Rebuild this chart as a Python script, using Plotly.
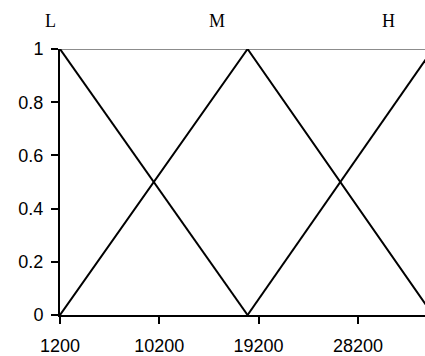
import plotly.graph_objects as go

# Membership function data
x_low = [1200, 18200]
y_low = [1, 0]
x_mid = [1200, 18200, 35000]
y_mid = [0, 1, 0]
x_high = [18200, 35000]
y_high = [0, 1]
set_labels = ["L", "M", "H"]
x_ticks = [1200, 10200, 19200, 28200]
y_ticks = [0, 0.2, 0.4, 0.6, 0.8, 1]
y_tick_text = ["0", "0.2", "0.4", "0.6", "0.8", "1"]

W, H = 425, 356
ML, MR, MT, MB = 60, 0, 49, 41

fig = go.Figure()
line_style = dict(color="black", width=2)
for xs, ys in [(x_low, y_low), (x_mid, y_mid), (x_high, y_high)]:
    fig.add_trace(go.Scatter(x=xs, y=ys, mode="lines", line=line_style,
                             showlegend=False, hoverinfo="skip"))

# grey reference line at membership 1
fig.add_shape(type="line", xref="paper", yref="y", x0=0, x1=1, y0=1, y1=1,
              line=dict(color="#8c8c8c", width=2), layer="below")

label_pos = [-0.027, 0.43, 0.899]
for lab, px in zip(set_labels, label_pos):
    fig.add_annotation(text=lab, xref="paper", yref="paper", x=px, y=1,
                       yshift=28, showarrow=False, xanchor="center", yanchor="middle",
                       font=dict(family="Liberation Serif, Times New Roman, serif",
                                 size=18, color="black"))

tick_font = dict(family="Liberation Sans, Arial, sans-serif", size=18, color="black")
fig.update_xaxes(range=[1200, 34280], tickvals=x_ticks,
                 ticktext=[str(v) for v in x_ticks], automargin=False,
                 showgrid=False, zeroline=False, showline=True,
                 linecolor="black", linewidth=2, ticks="outside", ticklen=7,
                 tickwidth=1.5, tickcolor="black", ticklabelstandoff=6,
                 tickfont=tick_font)
fig.update_yaxes(range=[0, 1], tickvals=y_ticks, ticktext=y_tick_text,
                 automargin=False,
                 showgrid=False, zeroline=False, showline=True,
                 linecolor="black", linewidth=2, ticks="outside", ticklen=7,
                 tickwidth=1.5, tickcolor="black", ticklabelstandoff=4,
                 tickfont=tick_font)

fig.update_layout(width=W, height=H, margin=dict(l=ML, r=MR, t=MT, b=MB),
                  paper_bgcolor="white", plot_bgcolor="white")

fig.write_html("out.html", config={"displayModeBar": False},
               post_script="document.body.style.margin='0';"
                           "document.body.style.overflow='hidden';")
